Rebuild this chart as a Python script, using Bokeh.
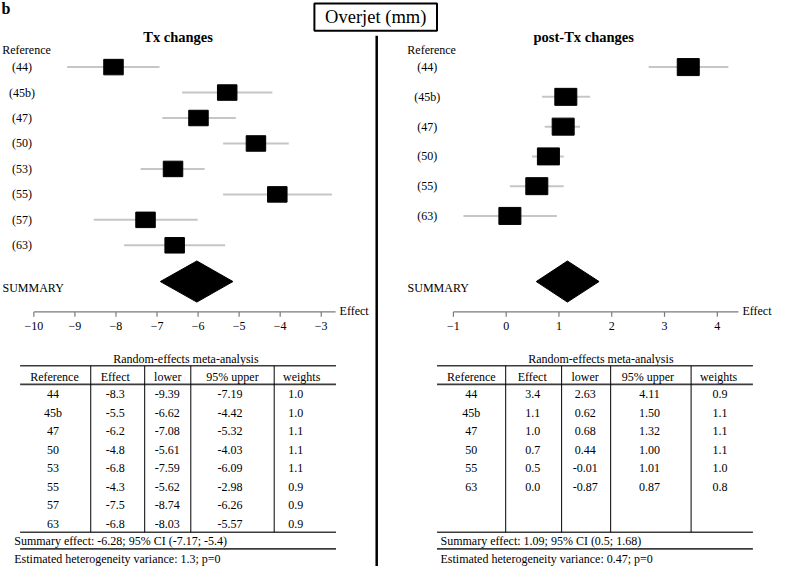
from bokeh.plotting import figure
from bokeh.models import Range1d
from bokeh.core.properties import value
from bokeh.embed import file_html
from bokeh.resources import INLINE

# ---------------- data ----------------
tx_refs = ["44", "45b", "47", "50", "53", "55", "57", "63"]
tx_effect = [-8.3, -5.5, -6.2, -4.8, -6.8, -4.3, -7.5, -6.8]
tx_lower = [-9.39, -6.62, -7.08, -5.61, -7.59, -5.62, -8.74, -8.03]
tx_upper = [-7.19, -4.42, -5.32, -4.03, -6.09, -2.98, -6.26, -5.57]
tx_weights = [1.0, 1.0, 1.1, 1.1, 1.1, 0.9, 0.9, 0.9]
tx_summary_text = "Summary effect: -6.28; 95% CI (-7.17; -5.4)"
tx_het_text = "Estimated heterogeneity variance: 1.3; p=0"

post_refs = ["44", "45b", "47", "50", "55", "63"]
post_effect = [3.4, 1.1, 1.0, 0.7, 0.5, 0.0]
post_lower = [2.63, 0.62, 0.68, 0.44, -0.01, -0.87]
post_upper = [4.11, 1.50, 1.32, 1.00, 1.01, 0.87]
post_weights = [0.9, 1.1, 1.1, 1.1, 1.0, 0.8]
post_summary_text = "Summary effect: 1.09; 95% CI (0.5; 1.68)"
post_het_text = "Estimated heterogeneity variance: 0.47; p=0"

# positions of the marks as drawn in the forest plots
tx_est = [-8.06, -5.29, -5.99, -4.59, -6.61, -4.07, -7.28, -6.57]
tx_lo = [-9.19, -6.39, -6.87, -5.39, -7.40, -5.39, -8.54, -7.80]
tx_hi = [-6.94, -4.19, -5.08, -3.79, -5.84, -2.74, -6.01, -5.34]
tx_diamond = [-6.92, -6.03, -5.15]

post_est = [3.45, 1.13, 1.08, 0.80, 0.58, 0.07]
post_lo = [2.70, 0.68, 0.73, 0.49, 0.07, -0.81]
post_hi = [4.21, 1.59, 1.40, 1.09, 1.09, 0.96]
post_diamond = [0.57, 1.16, 1.76]

tx_ticks = [-10, -9, -8, -7, -6, -5, -4, -3]
post_ticks = [-1, 0, 1, 2, 3, 4]
tx_axis_end = -2.65
post_axis_end = 4.40

headers = ["Reference", "Effect", "lower", "95% upper", "weights"]

# ---------------- layout ----------------
W, H = 773, 566
X0, X1 = 1.0, 789.0      # layout units across the frame
YB, YT = 579.0, 1.0      # layout units, bottom / top
FONT = value("Liberation Serif")

p = figure(width=W, height=H, output_backend="svg", toolbar_location=None,
           x_range=Range1d(X0, X1), y_range=Range1d(YB, YT),
           x_axis_type=None, y_axis_type=None, min_border=0,
           outline_line_color=None, background_fill_color="white",
           border_fill_color="white")
p.grid.visible = False


def eff_range(px0, v0, k):
    return Range1d(start=v0 + (X0 - px0) / k, end=v0 + (X1 - px0) / k)


def row_range(y0, dy):
    return Range1d(start=(YB - y0) / dy, end=(YT - y0) / dy)


p.extra_x_ranges = {
    "LX": eff_range(35.0, -10.0, 41.85),
    "RX": eff_range(516.5, 0.0, 53.8),
}
p.extra_y_ranges = {
    "LY": row_range(69.0, 26.0),
    "RY": row_range(69.0, 30.4),
    "TY": row_range(403.0, 18.9),
}


def txt(x, y, s, size="12px", align="center", bold=False, **kw):
    p.text(x=x, y=y, text=s, text_font=FONT, text_font_size=size,
           text_align=align, text_baseline="middle", text_color="black",
           text_font_style="bold" if bold else "normal", **kw)


# header
txt([2], [9], ["b"], size="16px", align="left", bold=True)
p.quad(left=[321], right=[446], top=[4], bottom=[32], fill_color=None,
       line_color="black", line_width=2)
txt([383.5], [18], ["Overjet (mm)"], size="18.5px")
p.segment(x0=[384.5], x1=[384.5], y0=[37], y1=[YB], line_color="black",
          line_width=2.5)


def forest(title, title_x, ref_x, row_x, refs, est, lo, hi, dia, ticks,
           axis_end, xr, yr, box_w, box_h):
    txt([title_x], [38], [title], size="14.5px", bold=True)
    txt([ref_x], [52], ["Reference"])
    rows = list(range(len(refs)))
    txt([row_x] * len(refs), rows, ["(%s)" % r for r in refs], y_range_name=yr)
    p.segment(x0=lo, x1=hi, y0=rows, y1=rows, line_color="#c6c6c6",
              line_width=2, x_range_name=xr, y_range_name=yr)
    p.rect(x=est, y=rows, width=box_w, height=box_h, width_units="screen",
           height_units="screen", fill_color="black", line_color="black",
           x_range_name=xr, y_range_name=yr)
    p.patch(x=[dia[0], dia[1], dia[2], dia[1]], y=[288, 267, 288, 309],
            fill_color="black", line_color="black", x_range_name=xr)
    txt([ref_x - 24.5], [295], ["SUMMARY"], align="left")
    # axis
    p.segment(x0=[ticks[0]], x1=[axis_end], y0=[319], y1=[319],
              line_color="#7a7a7a", line_width=1.2, x_range_name=xr)
    p.segment(x0=ticks, x1=ticks, y0=[319] * len(ticks), y1=[324] * len(ticks),
              line_color="#7a7a7a", line_width=1.2, x_range_name=xr)
    txt(ticks, [333] * len(ticks), [str(t).replace("-", "\u2212") for t in ticks],
        x_range_name=xr)
    txt([axis_end], [318], ["Effect"], align="left", x_offset=4, x_range_name=xr)


forest("Tx changes", 182, 27.5, 23, tx_refs, tx_est, tx_lo, tx_hi, tx_diamond,
       tx_ticks, tx_axis_end, "LX", "LY", 19.5, 15.5)
forest("post-Tx changes", 595.5, 440.5, 436, post_refs, post_est, post_lo,
       post_hi, post_diamond, post_ticks, post_axis_end, "RX", "RY", 22, 17)


def table(left, right, title_x, seps, head_x, cell_x, text_x, cols, summ, het):
    txt([title_x], [367], ["Random-effects meta-analysis"])
    p.segment(x0=[left] * 4, x1=[right] * 4, y0=[374, 393, 544, 561],
              y1=[374, 393, 544, 561], line_color="#3c3c3c", line_width=1.6)
    p.segment(x0=seps, x1=seps, y0=[374] * len(seps), y1=[544] * len(seps),
              line_color="black", line_width=1)
    txt(head_x, [385] * len(head_x), headers)
    for cx, col in zip(cell_x, cols):
        rows = list(range(len(col)))
        txt([cx] * len(col), rows, col, y_range_name="TY")
    txt([text_x], [552.5], [summ], align="left")
    txt([text_x], [571], [het], align="left")


def fmt(vals, d):
    return [("%." + str(d) + "f") % v for v in vals]


table(21, 343, 190, [93, 148, 195, 280],
      [56, 118, 171.5, 237.5, 308], [54.5, 118, 171, 235, 302], 15,
      [tx_refs, fmt(tx_effect, 1), fmt(tx_lower, 2), fmt(tx_upper, 2),
       fmt(tx_weights, 1)], tx_summary_text, tx_het_text)
table(446, 768, 613, [516, 573, 623, 705],
      [481, 543, 597, 661, 733], [481, 543.5, 597, 662.5, 734.5], 449.5,
      [post_refs, fmt(post_effect, 1), fmt(post_lower, 2), fmt(post_upper, 2),
       fmt(post_weights, 1)], post_summary_text, post_het_text)

open("out.html", "w").write(file_html(p, INLINE))
